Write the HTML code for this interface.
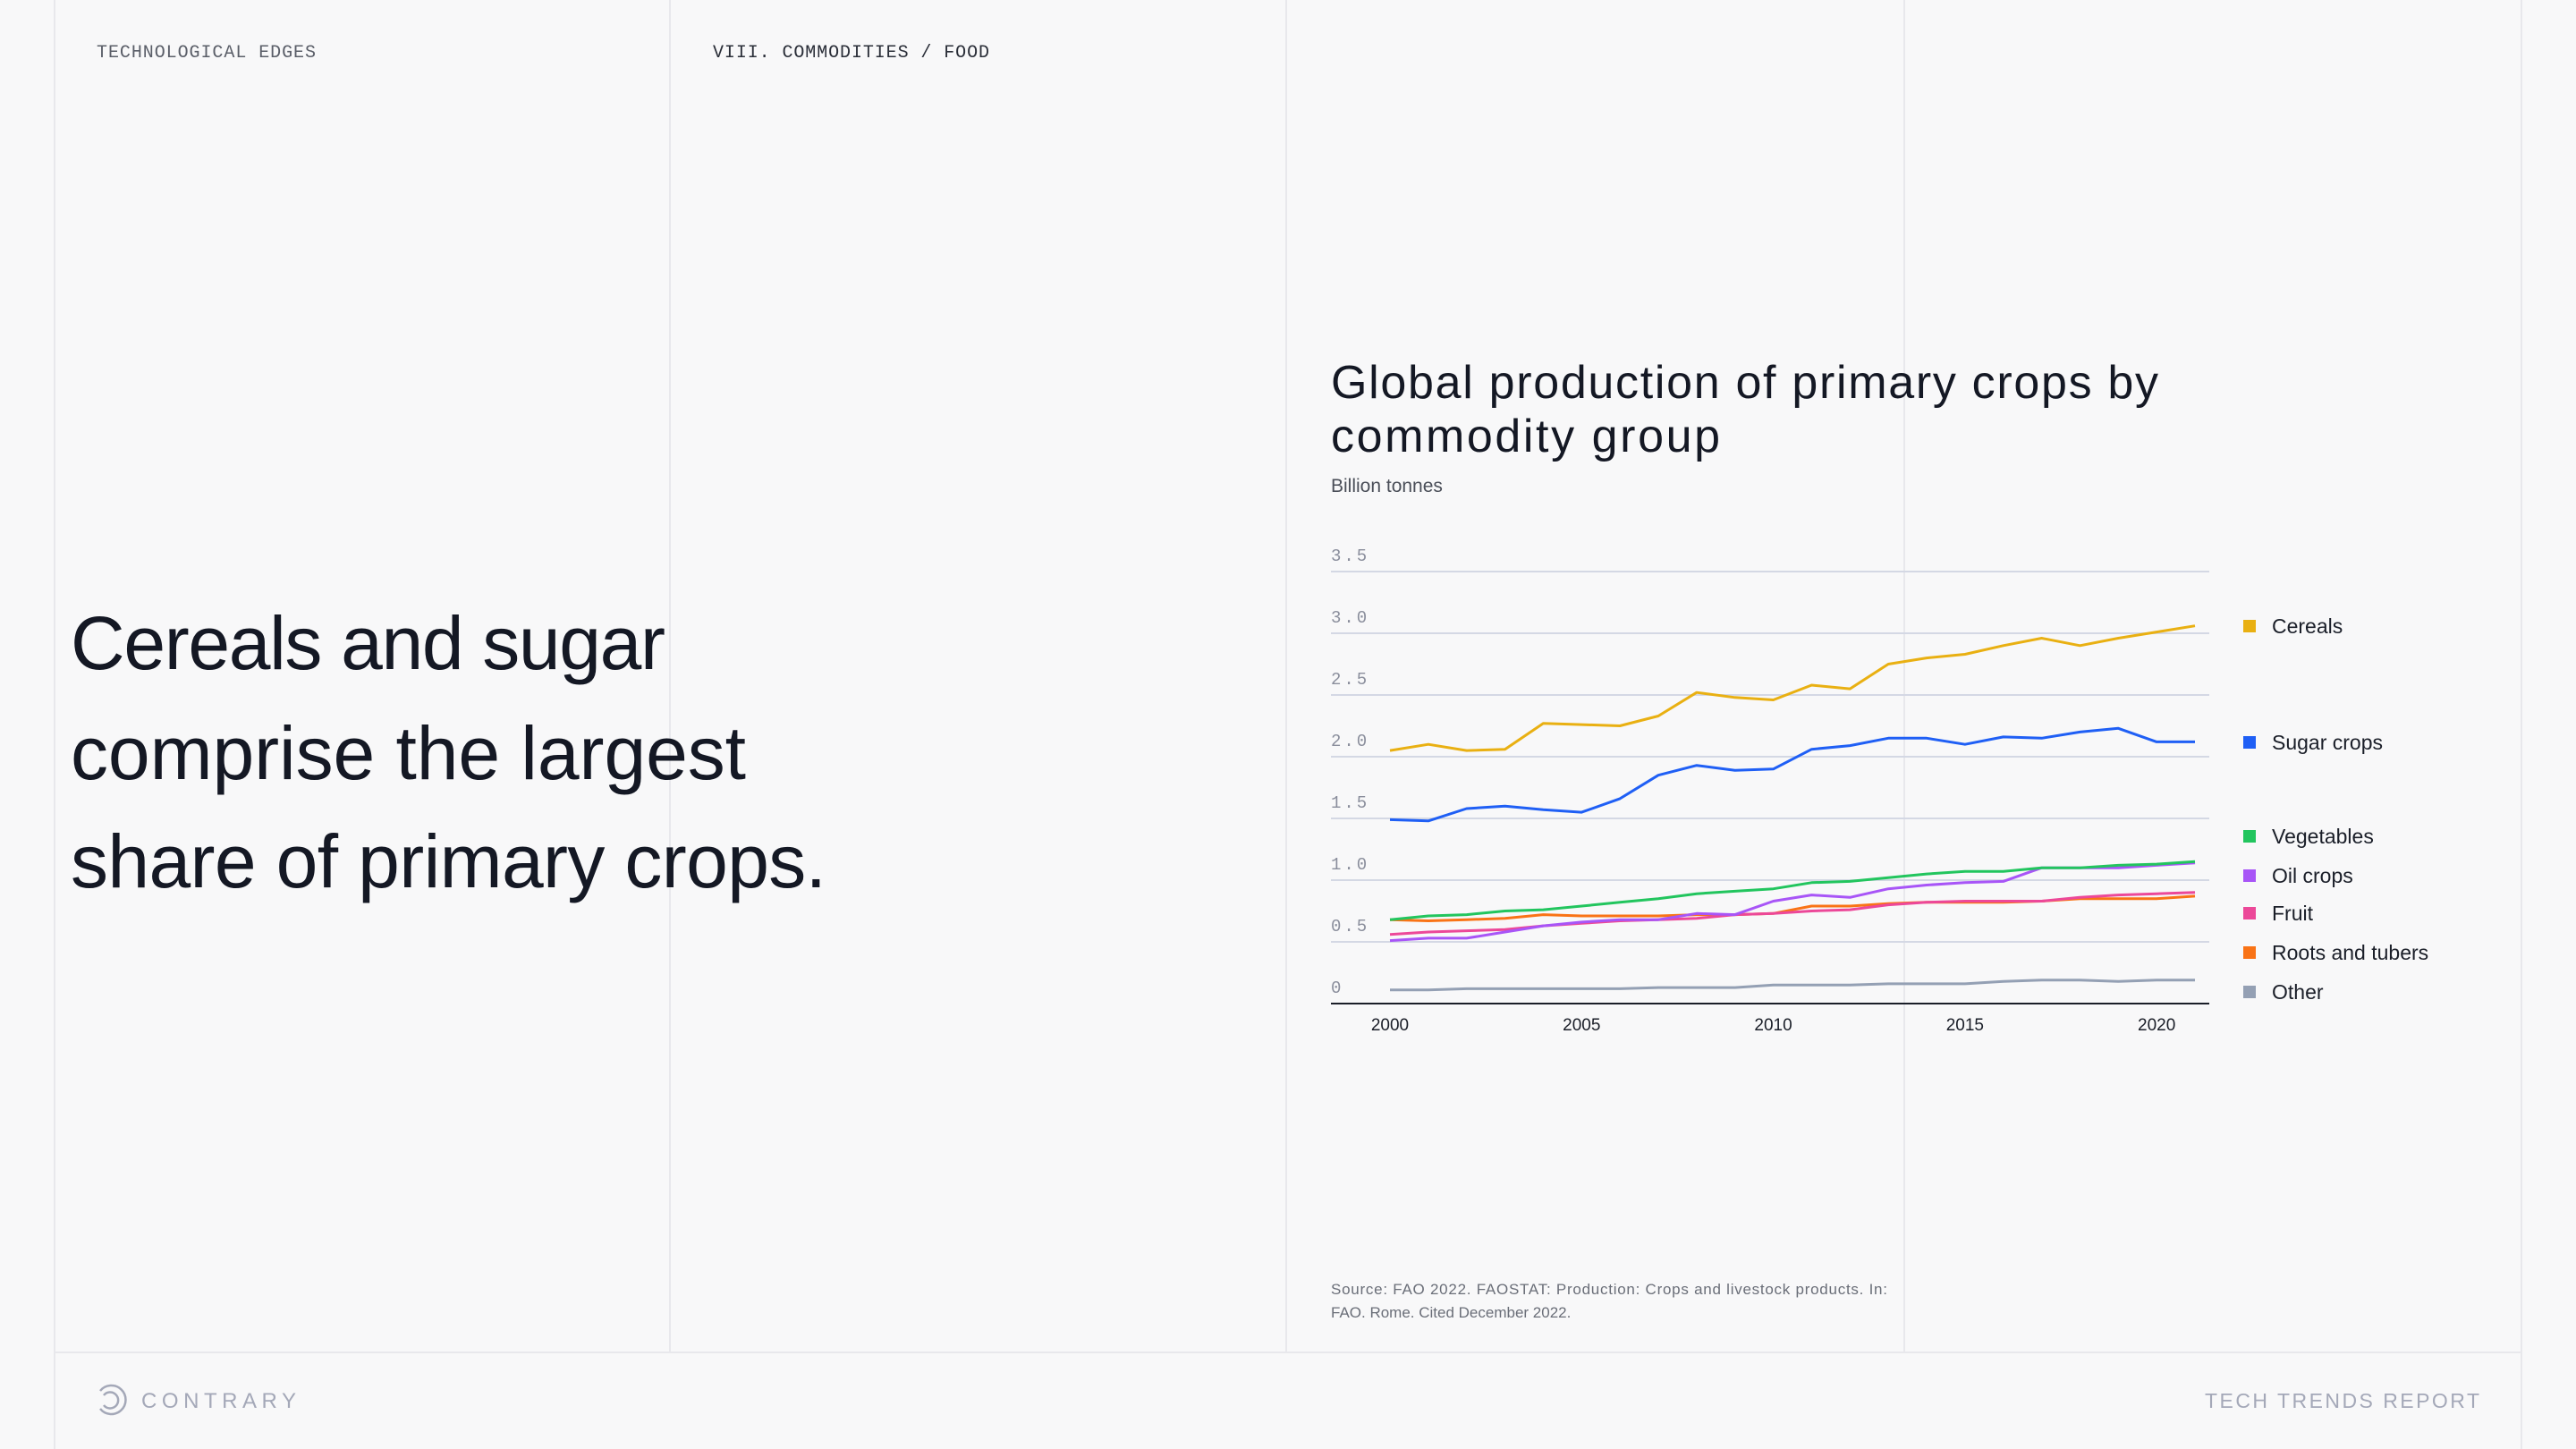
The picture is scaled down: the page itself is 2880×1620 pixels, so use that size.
<!DOCTYPE html>
<html><head><meta charset="utf-8"><style>
html,body{margin:0;padding:0;background:#f8f8f9;}
svg{display:block;font-family:"Liberation Sans",sans-serif;}
.mono{font-family:"Liberation Mono",monospace;}
</style></head><body>
<svg id="page" width="2880" height="1620" viewBox="0 0 2880 1620" xmlns="http://www.w3.org/2000/svg">
<rect width="2880" height="1620" fill="#f8f8f9"/>
<g stroke="#e8e8ec" stroke-width="2">
<line x1="61" y1="0" x2="61" y2="1620"/><line x1="749" y1="0" x2="749" y2="1512"/><line x1="1438" y1="0" x2="1438" y2="1512"/><line x1="2129" y1="0" x2="2129" y2="1512"/><line x1="2819" y1="0" x2="2819" y2="1620"/><line x1="61" y1="1512" x2="2819" y2="1512"/>
</g>
<text class="mono" x="108" y="64" font-size="20" fill="#5a5e68" textLength="245">TECHNOLOGICAL EDGES</text>
<text class="mono" x="797" y="64" font-size="20" fill="#2a2e38" textLength="309">VIII. COMMODITIES / FOOD</text>
<g font-size="84" fill="#141824">
<text x="79" y="748" textLength="665">Cereals and sugar</text>
<text x="79" y="871" textLength="755">comprise the largest</text>
<text x="79" y="992" textLength="845">share of primary crops.</text>
</g>
<text x="1488" y="445" font-size="52" fill="#141824" textLength="925">Global production of primary crops by</text>
<text x="1488" y="505" font-size="52" fill="#141824" textLength="435">commodity group</text>
<text x="1488" y="550" font-size="21" fill="#4a4e58">Billion tonnes</text>
<g id="chart"></g>
<text x="1488" y="1447" font-size="17" fill="#6a6e78" textLength="622">Source: FAO 2022. FAOSTAT: Production: Crops and livestock products. In:</text>
<text x="1488" y="1473" font-size="17" fill="#6a6e78">FAO. Rome. Cited December 2022.</text>
<g fill="none" stroke="#a4a8b8" stroke-width="2.5">
<path d="M112 1555 A16 16 0 1 1 112 1575"/><path d="M116 1560 A9 9 0 1 1 116 1571"/>
</g>
<text x="158" y="1574" font-size="24" fill="#a4a8b8" textLength="173">CONTRARY</text>
<text x="2772" y="1574" font-size="23" fill="#a4a8b8" text-anchor="end" textLength="307">TECH TRENDS REPORT</text>
</svg>
<script>
const years = [2000,2001,2002,2003,2004,2005,2006,2007,2008,2009,2010,2011,2012,2013,2014,2015,2016,2017,2018,2019,2020,2021];
const cereals = [2.05,2.10,2.05,2.06,2.27,2.26,2.25,2.33,2.52,2.48,2.46,2.58,2.55,2.75,2.80,2.83,2.90,2.96,2.90,2.96,3.01,3.06];
const sugar = [1.49,1.48,1.58,1.60,1.57,1.55,1.66,1.85,1.93,1.89,1.90,2.06,2.09,2.15,2.15,2.10,2.16,2.15,2.20,2.23,2.12,2.12];
const vegetables = [0.68,0.71,0.72,0.75,0.76,0.79,0.82,0.85,0.89,0.91,0.93,0.98,0.99,1.02,1.05,1.07,1.07,1.10,1.10,1.12,1.13,1.15];
const oilCrops = [0.51,0.53,0.53,0.58,0.63,0.66,0.68,0.68,0.73,0.72,0.83,0.88,0.86,0.93,0.96,0.98,0.99,1.10,1.10,1.10,1.12,1.14];
const fruit = [0.56,0.58,0.59,0.60,0.63,0.65,0.67,0.68,0.69,0.72,0.73,0.75,0.76,0.80,0.82,0.83,0.83,0.83,0.86,0.88,0.89,0.90];
const roots = [0.68,0.67,0.68,0.69,0.72,0.71,0.71,0.71,0.72,0.72,0.73,0.79,0.79,0.81,0.82,0.82,0.82,0.83,0.85,0.85,0.85,0.87];
const other = [0.11,0.11,0.12,0.12,0.12,0.12,0.12,0.13,0.13,0.13,0.15,0.15,0.15,0.16,0.16,0.16,0.18,0.19,0.19,0.18,0.19,0.19];
const yTicks = [0,0.5,1.0,1.5,2.0,2.5,3.0,3.5];
const yTickLabels = ["0","0.5","1.0","1.5","2.0","2.5","3.0","3.5"];
const xTicks = [2000,2005,2010,2015,2020];
const seriesNames = ["Cereals","Sugar crops","Vegetables","Oil crops","Fruit","Roots and tubers","Other"];

const NS = "http://www.w3.org/2000/svg";
const g = document.getElementById("chart");
const X0=1554, X1=2454, Y0=1122, Y1=639;
function xs(yr){return X0+(yr-2000)*(X1-X0)/21;}
function ys(v){return Y0-v*(Y0-Y1)/3.5;}
function mk(tag,attrs){const e=document.createElementNS(NS,tag);for(const k in attrs)e.setAttribute(k,attrs[k]);g.appendChild(e);return e;}

yTicks.forEach((t,i)=>{
  if(t>0){const l=mk("line",{x1:1488,x2:2470,y1:ys(t),y2:ys(t),stroke:"#d4d8e4","stroke-width":2});
  
  }
  const tx=mk("text",{x:1488,y:ys(t)-12,"font-size":19,fill:"#8a8e9c","font-family":"Liberation Mono, monospace","letter-spacing":3});
  tx.textContent=yTickLabels[i];
  
  
});
const ax=mk("line",{x1:1488,x2:2470,y1:Y0,y2:Y0,stroke:"#1a1e28","stroke-width":2});


xTicks.forEach(t=>{
  const tx=mk("text",{x:xs(t),y:1152,"font-size":19,fill:"#1a1e28","text-anchor":"middle"});
  tx.textContent=String(t);
  
  
});
const series=[other,roots,fruit,oilCrops,vegetables,sugar,cereals];
const cols=["#94a0b4","#f97316","#ec4899","#a855f7","#22c55e","#1f5ff5","#e9b012"];
const names=["other","roots-and-tubers","fruit","oil-crops","vegetables","sugar-crops","cereals"];
series.forEach((s,i)=>{
  const d=s.map((v,j)=>(j?"L":"M")+xs(years[j]).toFixed(1)+" "+ys(v).toFixed(1)).join(" ");
  const p=mk("path",{d:d,fill:"none",stroke:cols[i],"stroke-width":3,"stroke-linejoin":"round"});
  
  
});
const legY=[700,830,935,979,1021,1065,1109];
const legCols=["#e9b012","#1f5ff5","#22c55e","#a855f7","#ec4899","#f97316","#94a0b4"];
seriesNames.forEach((n,i)=>{
  const r=mk("rect",{x:2508,y:legY[i]-7,width:14,height:14,fill:legCols[i]});
  
  
  const t=mk("text",{x:2540,y:legY[i]+8,"font-size":23,fill:"#1a1e28"});
  t.textContent=n;
  
  
});
</script>
</body></html>
